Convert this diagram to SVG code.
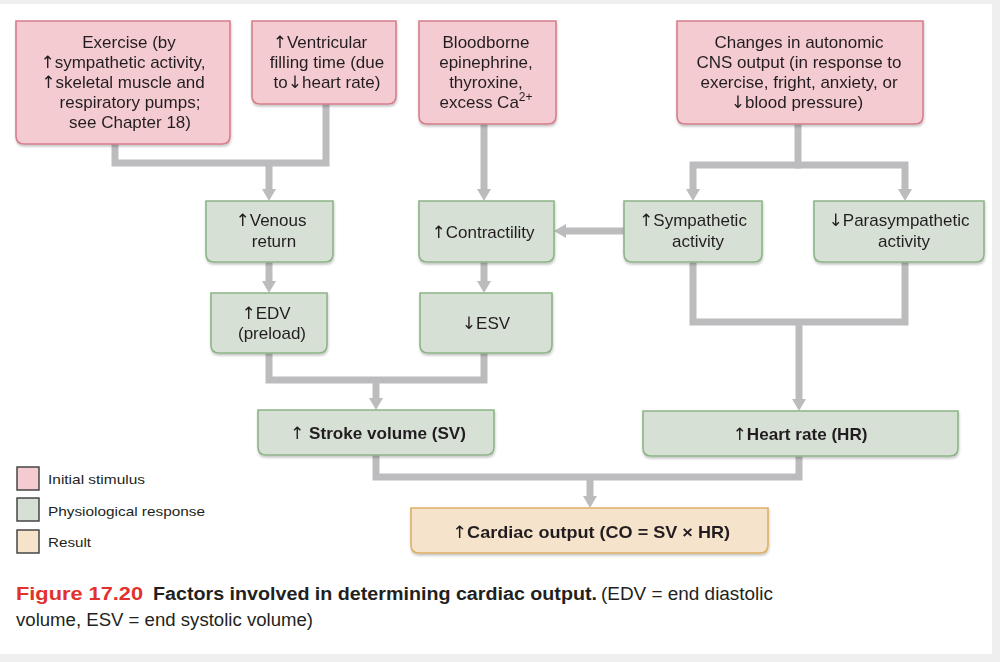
<svg xmlns="http://www.w3.org/2000/svg" width="1000" height="662" viewBox="0 0 1000 662">
<defs>
<style>
.bg{fill:#efefef}
.panel{fill:#ffffff}
.pink{fill:#f3cbd1;stroke:#d57f8b;stroke-width:1.6}
.green{fill:#d6e0d4;stroke:#8db487;stroke-width:1.6}
.tan{fill:#f5e3cb;stroke:#ddb066;stroke-width:1.6}
.t{font-family:"Liberation Sans",Arial,sans-serif;font-size:17px;fill:#231f20;text-anchor:middle}
.tb{font-family:"Liberation Sans",Arial,sans-serif;font-size:17px;font-weight:bold;fill:#231f20;text-anchor:middle}
.ar{font-family:"DejaVu Sans",sans-serif;font-weight:normal}
.leg{font-family:"Liberation Sans",Arial,sans-serif;font-size:13px;fill:#231f20}
.cap{font-family:"Liberation Sans",Arial,sans-serif;font-size:18px;fill:#231f20}
.conn{fill:none;stroke:#bcbcbe;stroke-width:7;stroke-linejoin:miter;stroke-linecap:butt}
.lsq{stroke:#3a3a3a;stroke-width:1.4}
</style>
<marker id="ah" viewBox="0 0 12 14" refX="0" refY="7" markerWidth="12" markerHeight="14" markerUnits="userSpaceOnUse" orient="auto">
<path d="M0,0 L12,7 L0,14 z" fill="#bcbcbe"/>
</marker>
<filter id="sh" x="-5%" y="-5%" width="110%" height="120%">
<feDropShadow dx="0.5" dy="2" stdDeviation="1.2" flood-color="#000" flood-opacity="0.22"/>
</filter>
</defs>
<rect class="bg" x="0" y="0" width="1000" height="662"/>
<rect class="panel" x="0" y="4" width="992" height="650"/>

<g id="connectors">
<path class="conn" d="M115,144 V163 H326 V104"/>
<path class="conn" d="M269,163 V189" marker-end="url(#ah)"/>
<path class="conn" d="M484,124 V189" marker-end="url(#ah)"/>
<path class="conn" d="M798,124 V165"/>
<path class="conn" d="M801,165 H693 V189" marker-end="url(#ah)"/>
<path class="conn" d="M795,165 H905 V189" marker-end="url(#ah)"/>
<path class="conn" d="M624,231 H566" marker-end="url(#ah)"/>
<path class="conn" d="M269,262 V281" marker-end="url(#ah)"/>
<path class="conn" d="M484,262 V281" marker-end="url(#ah)"/>
<path class="conn" d="M269,353 V380 H484 V353"/>
<path class="conn" d="M376,380 V398" marker-end="url(#ah)"/>
<path class="conn" d="M693,262 V322 H905 V262"/>
<path class="conn" d="M799,322 V399" marker-end="url(#ah)"/>
<path class="conn" d="M376,455 V477 H799 V456"/>
<path class="conn" d="M590,477 V496" marker-end="url(#ah)"/>
</g>

<g id="n-exercise" filter="url(#sh)">
<path class="pink" d="M16,21 H230 V136 Q230,144 222,144 H24 Q16,144 16,136 Z"/>
<text class="t" x="129" y="48">Exercise (by</text>
<text class="t" x="123" y="68"><tspan class="ar">↑</tspan>sympathetic activity,</text>
<text class="t" x="123" y="88"><tspan class="ar">↑</tspan>skeletal muscle and</text>
<text class="t" x="130" y="108">respiratory pumps;</text>
<text class="t" x="130" y="128">see Chapter 18)</text>
</g>
<g id="n-ventricular" filter="url(#sh)">
<path class="pink" d="M252,21 H396 V96 Q396,104 388,104 H260 Q252,104 252,96 Z"/>
<text class="t" x="320" y="48"><tspan class="ar">↑</tspan>Ventricular</text>
<text class="t" x="327" y="68">filling time (due</text>
<text class="t" x="327" y="88">to<tspan class="ar">↓</tspan>heart rate)</text>
</g>
<g id="n-bloodborne" filter="url(#sh)">
<path class="pink" d="M419,21 H556 V116 Q556,124 548,124 H427 Q419,124 419,116 Z"/>
<text class="t" x="486" y="48">Bloodborne</text>
<text class="t" x="486" y="68">epinephrine,</text>
<text class="t" x="486" y="88">thyroxine,</text>
<text class="t" x="486" y="108">excess Ca<tspan font-size="12" dy="-7">2+</tspan></text>
</g>
<g id="n-changes" filter="url(#sh)">
<path class="pink" d="M677,21 H923 V116 Q923,124 915,124 H685 Q677,124 677,116 Z"/>
<text class="t" x="799" y="48">Changes in autonomic</text>
<text class="t" x="799" y="68">CNS output (in response to</text>
<text class="t" x="799" y="88">exercise, fright, anxiety, or</text>
<text class="t" x="797" y="108"><tspan class="ar">↓</tspan>blood pressure)</text>
</g>

<g id="n-venous" filter="url(#sh)">
<path class="green" d="M206,201 H333 V254 Q333,262 325,262 H214 Q206,262 206,254 Z"/>
<text class="t" x="271" y="226"><tspan class="ar">↑</tspan>Venous</text>
<text class="t" x="274" y="247">return</text>
</g>
<g id="n-contractility" filter="url(#sh)">
<path class="green" d="M419,201 H554 V254 Q554,262 546,262 H427 Q419,262 419,254 Z"/>
<text class="t" x="483" y="238"><tspan class="ar">↑</tspan>Contractility</text>
</g>
<g id="n-sympathetic" filter="url(#sh)">
<path class="green" d="M624,201 H762 V254 Q762,262 754,262 H632 Q624,262 624,254 Z"/>
<text class="t" x="693" y="226"><tspan class="ar">↑</tspan>Sympathetic</text>
<text class="t" x="698" y="247">activity</text>
</g>
<g id="n-parasympathetic" filter="url(#sh)">
<path class="green" d="M814,201 H984 V254 Q984,262 976,262 H822 Q814,262 814,254 Z"/>
<text class="t" x="899" y="226"><tspan class="ar">↓</tspan>Parasympathetic</text>
<text class="t" x="904" y="247">activity</text>
</g>
<g id="n-edv" filter="url(#sh)">
<path class="green" d="M211,293 H327 V345 Q327,353 319,353 H219 Q211,353 211,345 Z"/>
<text class="t" x="266" y="319"><tspan class="ar">↑</tspan>EDV</text>
<text class="t" x="272" y="339">(preload)</text>
</g>
<g id="n-esv" filter="url(#sh)">
<path class="green" d="M420,293 H552 V345 Q552,353 544,353 H428 Q420,353 420,345 Z"/>
<text class="t" x="486" y="329"><tspan class="ar">↓</tspan>ESV</text>
</g>
<g id="n-sv" filter="url(#sh)">
<path class="green" d="M258,410 H494 V447 Q494,455 486,455 H266 Q258,455 258,447 Z"/>
<text class="tb" x="378" y="439" textLength="176" lengthAdjust="spacingAndGlyphs"><tspan class="ar">↑</tspan> Stroke volume (SV)</text>
</g>
<g id="n-hr" filter="url(#sh)">
<path class="green" d="M643,411 H958 V448 Q958,456 950,456 H651 Q643,456 643,448 Z"/>
<text class="tb" x="800" y="440" textLength="135" lengthAdjust="spacingAndGlyphs"><tspan class="ar">↑</tspan>Heart rate (HR)</text>
</g>
<g id="n-co" filter="url(#sh)">
<path class="tan" d="M411,508 H768 V545 Q768,553 760,553 H419 Q411,553 411,545 Z"/>
<text class="tb" x="591" y="538" textLength="278" lengthAdjust="spacingAndGlyphs"><tspan class="ar">↑</tspan>Cardiac output (CO = SV × HR)</text>
</g>

<g id="legend">
<rect class="lsq" x="17" y="467" width="22" height="23" fill="#f3cbd1"/>
<rect class="lsq" x="17" y="498" width="22" height="23" fill="#d6e0d4"/>
<rect class="lsq" x="17" y="530" width="22" height="23" fill="#f5e3cb"/>
<text class="leg" x="48" y="484" textLength="97" lengthAdjust="spacingAndGlyphs">Initial stimulus</text>
<text class="leg" x="48" y="516" textLength="157" lengthAdjust="spacingAndGlyphs">Physiological response</text>
<text class="leg" x="48" y="547" textLength="43" lengthAdjust="spacingAndGlyphs">Result</text>
</g>

<g id="caption">
<text class="cap" x="16" y="600" font-weight="bold" style="fill:#e2312d" textLength="127" lengthAdjust="spacingAndGlyphs">Figure 17.20</text>
<text class="cap" x="153" y="600" font-weight="bold" textLength="444" lengthAdjust="spacingAndGlyphs">Factors involved in determining cardiac output.</text>
<text class="cap" x="601" y="600" textLength="172" lengthAdjust="spacingAndGlyphs">(EDV = end diastolic</text>
<text class="cap" x="16" y="626" textLength="297" lengthAdjust="spacingAndGlyphs">volume, ESV = end systolic volume)</text>
</g>
</svg>
